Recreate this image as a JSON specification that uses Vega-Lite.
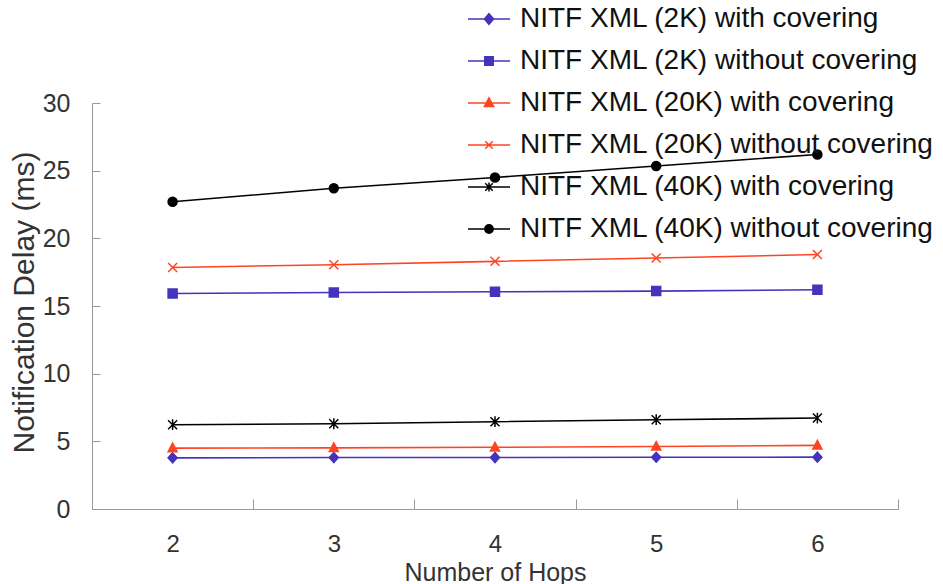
{
  "$schema": "https://vega.github.io/schema/vega-lite/v6.json",
  "width": 806,
  "height": 406,
  "autosize": {"type": "none"},
  "padding": {"left": 92, "top": 103, "right": 45, "bottom": 75},
  "background": "white",
  "config": {
    "view": {"stroke": null},
    "font": "Liberation Sans",
    "axis": {"domainColor": "#999999", "tickColor": "#999999", "labelColor": "#333333", "titleColor": "#333333", "labelFont": "Liberation Sans", "titleFont": "Liberation Sans", "titleFontWeight": "normal", "grid": false}
  },
  "data": {
    "values": [
      {"hops": 2, "series": "NITF XML (2K) with covering", "delay": 3.78},
      {"hops": 3, "series": "NITF XML (2K) with covering", "delay": 3.8},
      {"hops": 4, "series": "NITF XML (2K) with covering", "delay": 3.8},
      {"hops": 5, "series": "NITF XML (2K) with covering", "delay": 3.82},
      {"hops": 6, "series": "NITF XML (2K) with covering", "delay": 3.83},
      {"hops": 2, "series": "NITF XML (2K) without covering", "delay": 15.92},
      {"hops": 3, "series": "NITF XML (2K) without covering", "delay": 16.0},
      {"hops": 4, "series": "NITF XML (2K) without covering", "delay": 16.05},
      {"hops": 5, "series": "NITF XML (2K) without covering", "delay": 16.1},
      {"hops": 6, "series": "NITF XML (2K) without covering", "delay": 16.2},
      {"hops": 2, "series": "NITF XML (20K) with covering", "delay": 4.5},
      {"hops": 3, "series": "NITF XML (20K) with covering", "delay": 4.52},
      {"hops": 4, "series": "NITF XML (20K) with covering", "delay": 4.56},
      {"hops": 5, "series": "NITF XML (20K) with covering", "delay": 4.62},
      {"hops": 6, "series": "NITF XML (20K) with covering", "delay": 4.7},
      {"hops": 2, "series": "NITF XML (20K) without covering", "delay": 17.85},
      {"hops": 3, "series": "NITF XML (20K) without covering", "delay": 18.05},
      {"hops": 4, "series": "NITF XML (20K) without covering", "delay": 18.3},
      {"hops": 5, "series": "NITF XML (20K) without covering", "delay": 18.55},
      {"hops": 6, "series": "NITF XML (20K) without covering", "delay": 18.8},
      {"hops": 2, "series": "NITF XML (40K) with covering", "delay": 6.23},
      {"hops": 3, "series": "NITF XML (40K) with covering", "delay": 6.3},
      {"hops": 4, "series": "NITF XML (40K) with covering", "delay": 6.45},
      {"hops": 5, "series": "NITF XML (40K) with covering", "delay": 6.6},
      {"hops": 6, "series": "NITF XML (40K) with covering", "delay": 6.72},
      {"hops": 2, "series": "NITF XML (40K) without covering", "delay": 22.7},
      {"hops": 3, "series": "NITF XML (40K) without covering", "delay": 23.7},
      {"hops": 4, "series": "NITF XML (40K) without covering", "delay": 24.5},
      {"hops": 5, "series": "NITF XML (40K) without covering", "delay": 25.35},
      {"hops": 6, "series": "NITF XML (40K) without covering", "delay": 26.2}
    ]
  },
  "encoding": {
    "x": {
      "field": "hops", "type": "ordinal", "sort": "ascending",
      "scale": {"paddingInner": 0, "paddingOuter": 0},
      "axis": {"title": "Number of Hops", "labelAngle": 0, "tickBand": "extent", "tickSize": -10, "labelPadding": 33, "labelFontSize": 24, "titleFontSize": 25, "titleY": 51, "titleBaseline": "top"}
    },
    "y": {
      "field": "delay", "type": "quantitative",
      "scale": {"domain": [0, 30], "nice": false, "zero": true},
      "axis": {"title": "Notification Delay (ms)", "values": [0, 5, 10, 15, 20, 25, 30], "tickSize": -8, "labelPadding": 30, "labelFontSize": 25, "titleFontSize": 30, "titleX": -59, "titleY": 199, "titleBaseline": "alphabetic", "titleAngle": -90}
    }
  },
  "layer": [
    {
      "mark": {"type": "line", "strokeWidth": 1.6},
      "encoding": {
        "color": {"field": "series", "type": "nominal", "legend": null,
          "scale": {"domain": ["NITF XML (2K) with covering", "NITF XML (2K) without covering", "NITF XML (20K) with covering", "NITF XML (20K) without covering", "NITF XML (40K) with covering", "NITF XML (40K) without covering"],
                    "range": ["#4433BB", "#4433BB", "#FF4422", "#FF4422", "#000000", "#000000"]}}
      }
    },
    {
      "mark": {"type": "point", "filled": true, "size": 81, "strokeWidth": 1.5, "opacity": 1},
      "encoding": {
        "color": {"field": "series", "type": "nominal", "legend": null,
          "scale": {"domain": ["NITF XML (2K) with covering", "NITF XML (2K) without covering", "NITF XML (20K) with covering", "NITF XML (20K) without covering", "NITF XML (40K) with covering", "NITF XML (40K) without covering"],
                    "range": ["#4433BB", "#4433BB", "#FF4422", "#FF4422", "#000000", "#000000"]}},
        "stroke": {"field": "series", "type": "nominal", "legend": null,
          "scale": {"domain": ["NITF XML (2K) with covering", "NITF XML (2K) without covering", "NITF XML (20K) with covering", "NITF XML (20K) without covering", "NITF XML (40K) with covering", "NITF XML (40K) without covering"],
                    "range": ["#4433BB", "#4433BB", "#FF4422", "#FF4422", "#000000", "#000000"]}},
        "shape": {"field": "series", "type": "nominal", "legend": null,
          "scale": {"domain": ["NITF XML (2K) with covering", "NITF XML (2K) without covering", "NITF XML (20K) with covering", "NITF XML (20K) without covering", "NITF XML (40K) with covering", "NITF XML (40K) without covering"],
                    "range": ["M0,-1.1L1,0L0,1.1L-1,0Z", "square", "M0,-1.1L1,0.8L-1,0.8Z", "M-1,-1L1,1M-1,1L1,-1", "M-1,-1L1,1M-1,1L1,-1M0,-1.2V1.2", "circle"]}}
      }
    },
    {
      "transform": [{"filter": "false"}],
      "mark": {"type": "point", "filled": true, "strokeWidth": 1.5, "opacity": 1},
      "encoding": {
        "color": {"field": "series", "type": "nominal",
          "scale": {"domain": ["NITF XML (2K) with covering", "NITF XML (2K) without covering", "NITF XML (20K) with covering", "NITF XML (20K) without covering", "NITF XML (40K) with covering", "NITF XML (40K) without covering"],
                    "range": ["#4433BB", "#4433BB", "#FF4422", "#FF4422", "#000000", "#000000"]},
          "legend": {"title": null, "orient": "none", "legendX": 375, "legendY": -106, "symbolSize": 1764, "symbolStrokeWidth": 1.5, "labelFontSize": 28, "labelFont": "Liberation Sans", "labelColor": "#111111", "labelOffset": 9, "rowPadding": 6, "labelLimit": 600, "symbolOpacity": 1}},
        "stroke": {"field": "series", "type": "nominal",
          "scale": {"domain": ["NITF XML (2K) with covering", "NITF XML (2K) without covering", "NITF XML (20K) with covering", "NITF XML (20K) without covering", "NITF XML (40K) with covering", "NITF XML (40K) without covering"],
                    "range": ["#4433BB", "#4433BB", "#FF4422", "#FF4422", "#000000", "#000000"]},
          "legend": {"title": null, "orient": "none", "legendX": 375, "legendY": -106, "symbolSize": 1764, "symbolStrokeWidth": 1.5, "labelFontSize": 28, "labelFont": "Liberation Sans", "labelColor": "#111111", "labelOffset": 9, "rowPadding": 6, "labelLimit": 600, "symbolOpacity": 1}},
        "shape": {"field": "series", "type": "nominal",
          "scale": {"domain": ["NITF XML (2K) with covering", "NITF XML (2K) without covering", "NITF XML (20K) with covering", "NITF XML (20K) without covering", "NITF XML (40K) with covering", "NITF XML (40K) without covering"],
                    "range": ["M-1,0H1M0,-0.25L0.22,0L0,0.25L-0.22,0Z", "M-1,0H1M-0.2,-0.2H0.2V0.2H-0.2Z", "M-1,0H1M0,-0.24L0.22,0.17L-0.22,0.17Z", "M-1,0H1M-0.18,-0.18L0.18,0.18M-0.18,0.18L0.18,-0.18", "M-1,0H1M-0.18,-0.18L0.18,0.18M-0.18,0.18L0.18,-0.18M0,-0.22V0.22", "M-1,0H1M0.2,0A0.2,0.2,0,1,1,-0.2,0A0.2,0.2,0,1,1,0.2,0Z"]},
          "legend": {"title": null, "orient": "none", "legendX": 375, "legendY": -106, "symbolSize": 1764, "symbolStrokeWidth": 1.5, "labelFontSize": 28, "labelFont": "Liberation Sans", "labelColor": "#111111", "labelOffset": 9, "rowPadding": 6, "labelLimit": 600, "symbolOpacity": 1}}
      }
    }
  ],
  "resolve": {"scale": {"color": "independent", "stroke": "independent", "shape": "independent"}}
}
